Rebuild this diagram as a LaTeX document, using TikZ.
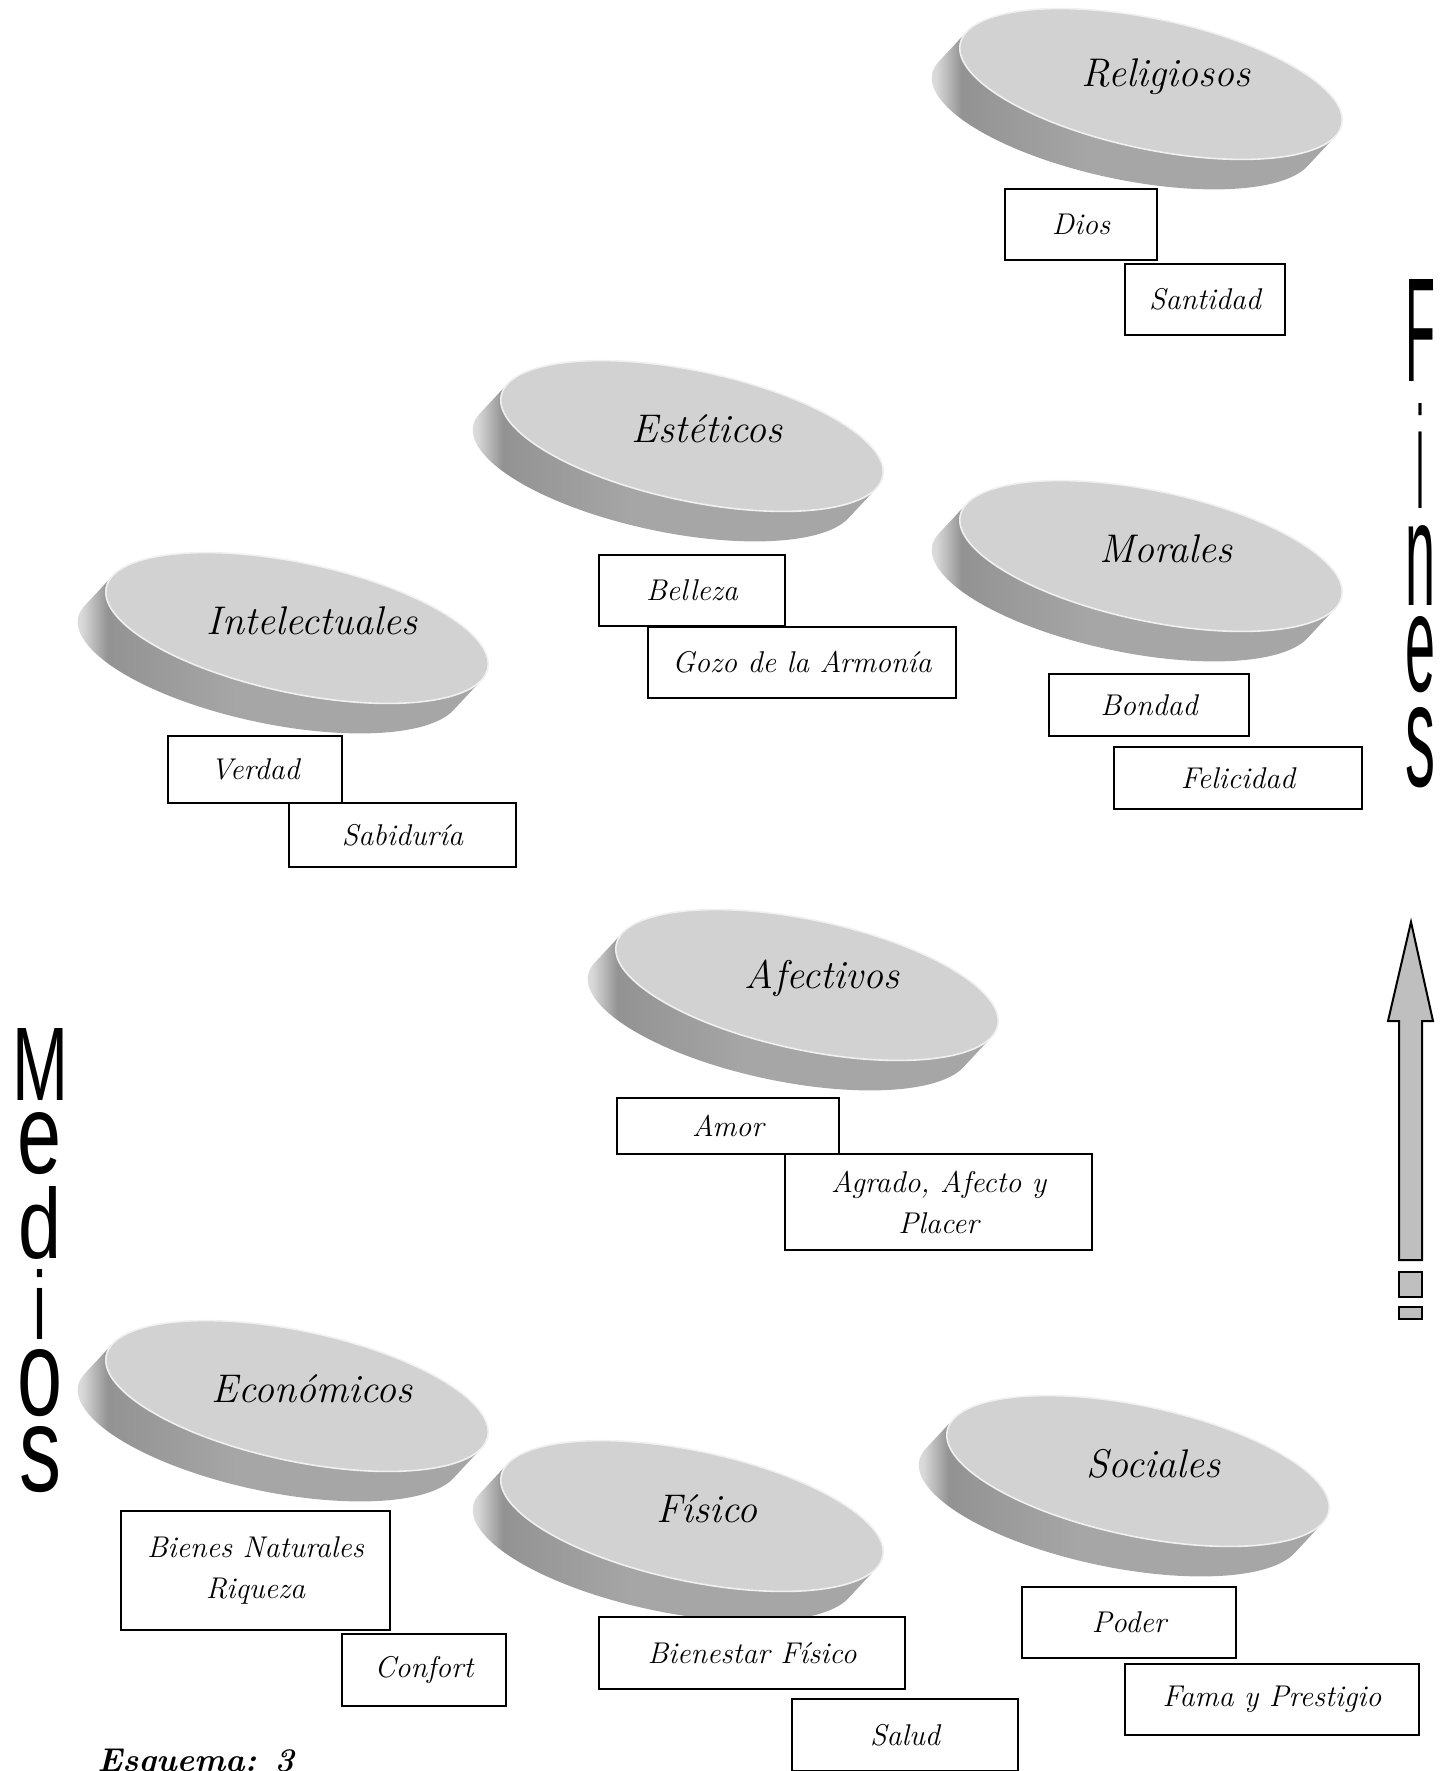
\documentclass[tikz,border=0pt]{standalone}
\usepackage{fontspec}
\usepackage{graphicx}
\newfontfamily\letrasans{Liberation Sans}

% side of a disc, light at the far left, darker towards the bottom
\pgfdeclarehorizontalshading{ladodisco}{100bp}{color(0bp)=(gray!20); color(25bp)=(gray!20); color(28bp)=(gray!30); color(31bp)=(gray!85); color(36bp)=(gray!80); color(46bp)=(gray!70); color(100bp)=(gray!70)}

\tikzset{
  tapa/.style={fill=gray!35, draw=gray!12, line width=0.8pt},
  lado/.style={shading=ladodisco},
  nombre/.style={font=\fontsize{20}{24}\selectfont\itshape},
  valor/.style={draw, line width=1pt, fill=white, inner sep=2pt, align=center,
    font=\fontsize{15}{20.5}\selectfont\itshape},
  palabra/.style={inner sep=0pt, align=center, font=\letrasans, anchor=north},
  flecha/.style={fill=gray!50, draw=black, line width=1pt, line join=miter}
}

% \disco{name}{x}{y}{text}
\newcommand{\disco}[4]{%
  \begin{scope}[shift={(#2,#3)}, rotate=-12]
    \path[lado] (168.66:97.5pt and 32.5pt) -- ++(-10.575pt,-17.583pt)
      arc[start angle=168.66, end angle=348.66, x radius=97.5pt, y radius=32.5pt]
      -- (348.66:97.5pt and 32.5pt) -- cycle;
    \path[tapa] (0,0) ellipse [x radius=97.5pt, y radius=32.5pt];
  \end{scope}
  \node[nombre] (#1) at ({#2+15},{#3-7}) {#4};
}

% \caja{name}{x1}{y1}{x2}{y2}{text}
\newcommand{\caja}[6]{%
  \node[valor, minimum width={(#4-#2)*0.5pt}, minimum height={(#5-#3)*0.5pt}]
    (#1) at ({(#2+#4)/2},{(#3+#5)/2}) {#6};
}

\begin{document}
\begin{tikzpicture}[x=0.5pt, y=-0.5pt]
\useasboundingbox (0,0) rectangle (1448,1771);

% fines
\disco{religiosos}{1151}{84}{Religiosos}
\disco{esteticos}{692}{436}{Estéticos}
\disco{morales}{1151}{556}{Morales}
\disco{intelectuales}{297}{628}{Intelectuales}

\caja{dios}{1005}{189}{1157}{260}{Dios}
\caja{santidad}{1125}{264}{1285}{335}{Santidad}
\caja{belleza}{599}{555}{785}{626}{Belleza}
\caja{gozo}{648}{627}{956}{698}{Gozo de la Armonía}
\caja{bondad}{1049}{674}{1249}{736}{Bondad}
\caja{felicidad}{1114}{747}{1362}{809}{Felicidad}
\caja{verdad}{168}{736}{342}{803}{Verdad}
\caja{sabiduria}{289}{803}{516}{867}{Sabiduría}

% medios
\disco{afectivos}{807}{985}{Afectivos}
\disco{economicos}{297}{1396}{Económicos}
\disco{fisico}{692}{1516}{Físico}
\disco{sociales}{1138}{1471}{Sociales}

\caja{amor}{617}{1098}{839}{1154}{Amor}
\caja{agrado}{785}{1154}{1092}{1250}{Agrado, Afecto y\\Placer}
\caja{bienes}{121}{1511}{390}{1630}{Bienes Naturales\\Riqueza}
\caja{confort}{342}{1634}{506}{1706}{Confort}
\caja{bienestar}{599}{1617}{905}{1689}{Bienestar Físico}
\caja{salud}{792}{1699}{1018}{1771}{Salud}
\caja{poder}{1022}{1587}{1236}{1658}{Poder}
\caja{fama}{1125}{1664}{1419}{1735}{Fama y Prestigio}

% vertical words
\node[palabra] (medios) at (40,1028) {\resizebox{28pt}{36pt}{M}\\[5pt]
  \resizebox{22pt}{30.5pt}{e}\\[5pt]\resizebox{21.5pt}{36pt}{d}\\[4pt]
  \resizebox{6.5pt}{35pt}{i}\\[4pt]\resizebox{22.5pt}{33pt}{o}\\[4pt]
  \resizebox{21pt}{32.5pt}{s}};
\node[palabra] (fines) at (1420,279) {\resizebox{15pt}{51pt}{F}\\[10pt]
  \resizebox{4pt}{52.5pt}{i}\\[7.5pt]\resizebox{15pt}{40pt}{n}\\[4.5pt]
  \resizebox{15pt}{37.5pt}{e}\\[6.5pt]\resizebox{15pt}{39.5pt}{s}};

% block arrow
\draw[flecha] (1411,922) -- (1433,1021) -- (1422,1021) -- (1422,1260) -- (1399,1260)
  -- (1399,1021) -- (1388,1021) -- cycle;
\draw[flecha] (1399,1272) rectangle (1422,1297);
\draw[flecha] (1399,1307) rectangle (1422,1319);

\node[font=\fontsize{16.5}{20}\selectfont\bfseries\itshape, anchor=base west, inner sep=0pt]
  (esquema) at (97,1771) {Esquema: 3};
\end{tikzpicture}
\end{document}
